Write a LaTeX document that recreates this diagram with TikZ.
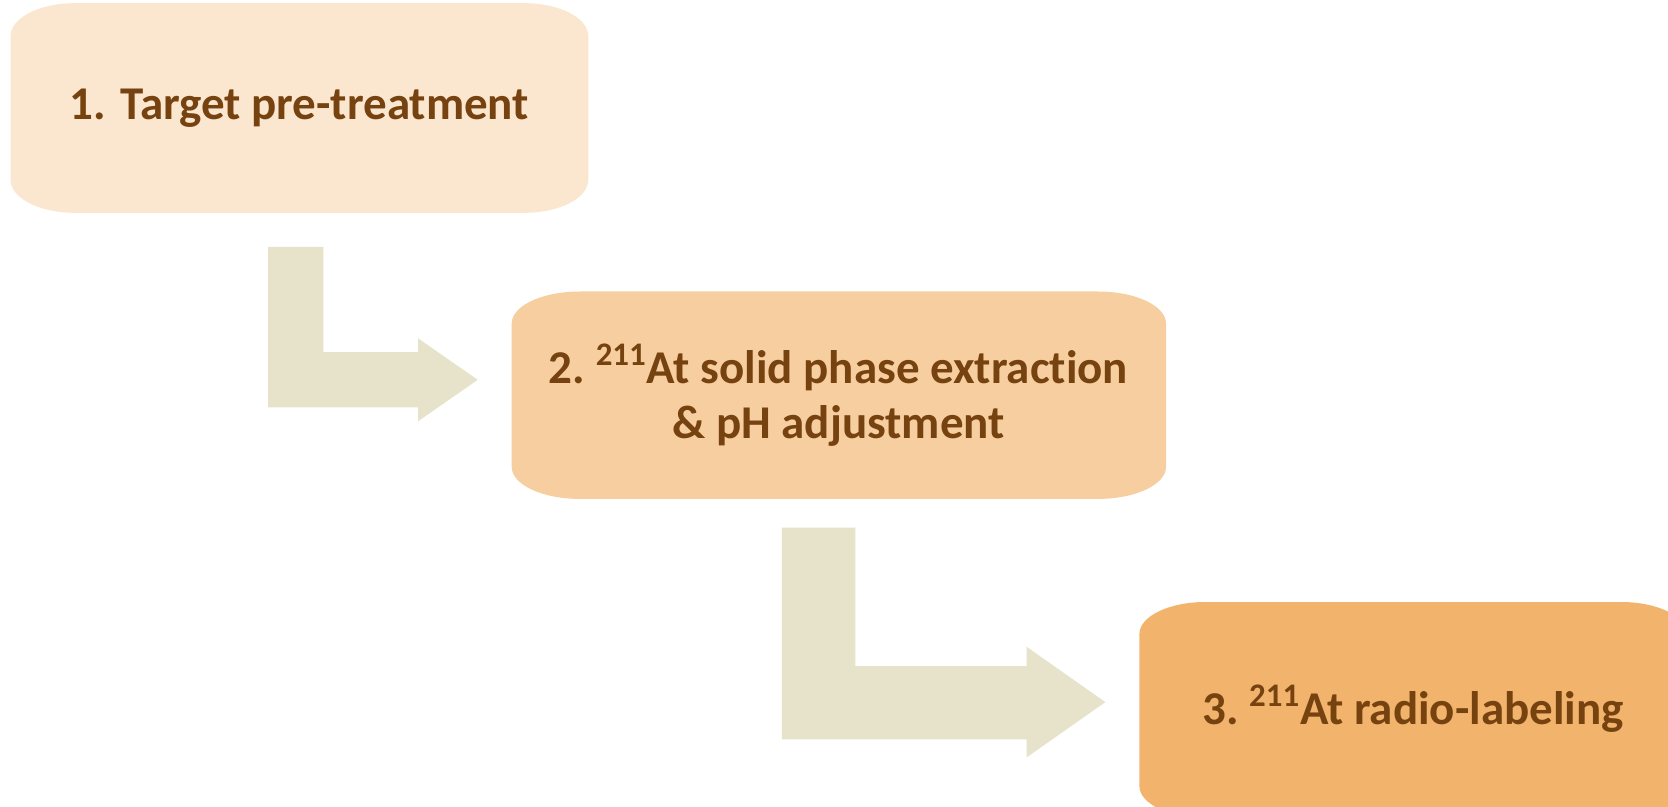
\documentclass[tikz,border=0pt]{standalone}
\usepackage{fontspec}
\setmainfont[Ligatures=NoCommon]{Carlito}
\definecolor{boxA}{HTML}{FBE6CF}
\definecolor{boxB}{HTML}{F7CE9F}
\definecolor{boxC}{HTML}{F2B46C}
\definecolor{arrowfill}{HTML}{E6E3CA}
\definecolor{txt}{HTML}{764310}
\tikzset{
  lbl/.style={text=txt, font=\fontsize{23.5}{27.5}\selectfont\bfseries, align=center, inner sep=0pt},
}
\newcommand{\sups}[1]{\hspace{-0.08em}\textsuperscript{#1}}
% \ebox{x1}{y1}{x2}{y2}{rx}{ry}{colour}
\newcommand{\ebox}[7]{%
  \fill[#7] ({#1+#5},#2) -- ({#3-#5},#2)
    arc[start angle=-90, end angle=0, x radius=#5, y radius=#6]
    -- (#3,{#4-#6})
    arc[start angle=0, end angle=90, x radius=#5, y radius=#6]
    -- ({#1+#5},#4)
    arc[start angle=90, end angle=180, x radius=#5, y radius=#6]
    -- (#1,{#2+#6})
    arc[start angle=180, end angle=270, x radius=#5, y radius=#6] -- cycle;}
\begin{document}
\begin{tikzpicture}[x=0.5pt,y=-0.5pt]
\useasboundingbox (0,0) rectangle (1668,807);
\clip (0,0) rectangle (1668,807);
\fill[white] (0,0) rectangle (1668,807);
% boxes
\ebox{10.6}{3.2}{588.3}{212.8}{64}{33}{boxA}
\ebox{511.7}{291.5}{1166}{498.9}{68}{32}{boxB}
\ebox{1139.4}{602}{1687}{818}{66}{32}{boxC}
% bent arrows
\fill[arrowfill] (268,246.8) -- (323.4,246.8) -- (323.4,352.1) -- (418,352.1) -- (418,338.3)
  -- (477.7,379.8) -- (418,421.3) -- (418,407.4) -- (268,407.4) -- cycle;
\fill[arrowfill] (781.9,527.7) -- (855.3,527.7) -- (855.3,666) -- (1026.6,666) -- (1026.6,646.8)
  -- (1105.3,702.1) -- (1026.6,757.4) -- (1026.6,739.4) -- (781.9,739.4) -- cycle;
% labels
\node[lbl] (s1) at (299.5,108) {1. Target pre-treatment};
\node[lbl] (s2) at (838.5,395) {2. \sups{211}At solid phase extraction\\\& pH adjustment};
\node[lbl] (s3) at (1413,709) {3. \sups{211}At radio-labeling};
\end{tikzpicture}
\end{document}
